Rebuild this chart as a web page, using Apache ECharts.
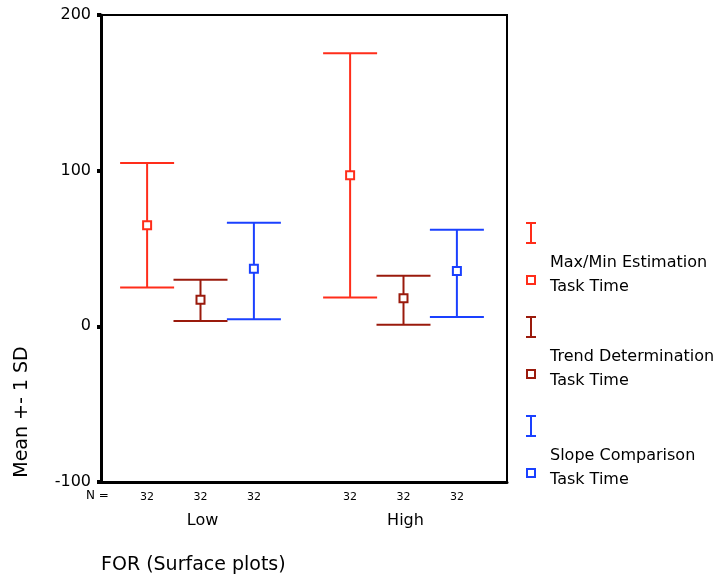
<!DOCTYPE html>
<html>
<head>
<meta charset="utf-8">
<script src="https://cdn.jsdelivr.net/npm/echarts@6/dist/echarts.min.js"></script>
<style>
html, body { margin: 0; padding: 0; background: #fff; }
#main { width: 719px; height: 582px; }
</style>
</head>
<body>
<div id="main"></div>
<script>
// groups on the x axis
var groups = ['Low', 'High'];
var seriesNames = ['Max/Min Estimation Task Time', 'Trend Determination Task Time', 'Slope Comparison Task Time'];
var colors = ['#ff2d1a', '#9a1a0c', '#1a40ff'];

// mean and mean -/+ 1 SD, one value per group
var maxMinMean = [65, 97];
var maxMinLow = [25, 18.5];
var maxMinHigh = [105, 175.5];

var trendMean = [17, 18];
var trendLow = [3.5, 1];
var trendHigh = [30, 32.5];

var slopeMean = [37, 35.5];
var slopeLow = [4.5, 6];
var slopeHigh = [66.5, 62];

var nCounts = [32, 32];
var yTicks = [-100, 0, 100, 200];

var font = '"DejaVu Sans", sans-serif';

function buildData(lows, highs, means) {
    var out = [];
    for (var i = 0; i < groups.length; i++) {
        out.push([i, lows[i], highs[i], means[i], nCounts[i]]);
    }
    return out;
}

function errorBar(offset, color) {
    return function (params, api) {
        var i = api.value(0);
        var band = api.size([1, 0])[0];
        var pLow = api.coord([i, api.value(1)]);
        var pHigh = api.coord([i, api.value(2)]);
        var pMean = api.coord([i, api.value(3)]);
        var pBase = api.coord([i, yTicks[0]]);
        var x = pLow[0] - 2 + offset * band;
        var half = band * 0.133;
        var line = { stroke: color, lineWidth: 2 };
        return {
            type: 'group',
            children: [
                { type: 'line', shape: { x1: x, y1: pHigh[1], x2: x, y2: pLow[1] }, style: line },
                { type: 'line', shape: { x1: x - half, y1: pHigh[1], x2: x + half, y2: pHigh[1] }, style: line },
                { type: 'line', shape: { x1: x - half, y1: pLow[1], x2: x + half, y2: pLow[1] }, style: line },
                { type: 'rect', shape: { x: x - 4, y: pMean[1] - 4, width: 8, height: 8 },
                  style: { fill: '#fff', stroke: color, lineWidth: 2 } },
                { type: 'text', style: { text: String(api.value(4)), x: x, y: pBase[1] + 15,
                  align: 'center', verticalAlign: 'middle', font: '11px ' + font, fill: '#000' } }
            ]
        };
    };
}

// legend drawn by hand, SPSS style
var legendGraphics = [];
var legendTop = [233, 327, 426];
for (var k = 0; k < seriesNames.length; k++) {
    var cy = legendTop[k];
    var c = colors[k];
    legendGraphics.push(
        { type: 'line', shape: { x1: 531, y1: cy - 10, x2: 531, y2: cy + 10 }, style: { stroke: c, lineWidth: 2 } },
        { type: 'line', shape: { x1: 526, y1: cy - 10, x2: 536, y2: cy - 10 }, style: { stroke: c, lineWidth: 2 } },
        { type: 'line', shape: { x1: 526, y1: cy + 10, x2: 536, y2: cy + 10 }, style: { stroke: c, lineWidth: 2 } },
        { type: 'rect', shape: { x: 527, y: cy + 43, width: 8, height: 8 }, style: { fill: '#fff', stroke: c, lineWidth: 2 } },
        { type: 'text', left: 550, top: cy + 18,
          style: { text: seriesNames[k].replace(' Task Time', '\nTask Time'), font: '16px ' + font,
                   lineHeight: 24, fill: '#000' } }
    );
}

var myChart = echarts.init(document.getElementById('main'));
var option = {
    animation: false,
    backgroundColor: '#fff',
    grid: {
        left: 101, top: 15, width: 406, height: 467,
        show: true, borderColor: '#000', borderWidth: 2
    },
    xAxis: {
        type: 'category',
        data: groups,
        boundaryGap: true,
        axisLine: { onZero: false, lineStyle: { color: '#000', width: 3 } },
        axisTick: { alignWithLabel: true, length: 5, lineStyle: { color: '#000', width: 5 } },
        axisLabel: { margin: 31, color: '#000', fontSize: 16, fontFamily: font },
        splitLine: { show: false }
    },
    yAxis: {
        type: 'value',
        min: yTicks[0],
        max: yTicks[yTicks.length - 1],
        interval: 100,
        axisLine: { show: true, onZero: false, lineStyle: { color: '#000', width: 3 } },
        axisTick: { show: true, length: 4, lineStyle: { color: '#000', width: 4 } },
        axisLabel: { margin: 10, color: '#000', fontSize: 16, fontFamily: font },
        splitLine: { show: false }
    },
    graphic: [
        { type: 'text', left: 86, top: 490, style: { text: 'N =', font: '12px ' + font, fill: '#000' } },
        { type: 'text', left: 101, top: 556, style: { text: 'FOR (Surface plots)', font: '19px ' + font, fill: '#000' } },
        { type: 'text', x: 22, y: 412, rotation: Math.PI / 2,
          style: { text: 'Mean +- 1 SD', font: '19px ' + font, fill: '#000', align: 'center', verticalAlign: 'middle' } }
    ].concat(legendGraphics),
    series: [
        { name: seriesNames[0], type: 'custom', renderItem: errorBar(-0.263, colors[0]),
          data: buildData(maxMinLow, maxMinHigh, maxMinMean), encode: { x: 0, y: [1, 2, 3] } },
        { name: seriesNames[1], type: 'custom', renderItem: errorBar(0, colors[1]),
          data: buildData(trendLow, trendHigh, trendMean), encode: { x: 0, y: [1, 2, 3] } },
        { name: seriesNames[2], type: 'custom', renderItem: errorBar(0.263, colors[2]),
          data: buildData(slopeLow, slopeHigh, slopeMean), encode: { x: 0, y: [1, 2, 3] } }
    ]
};
myChart.setOption(option);
</script>
</body>
</html>
